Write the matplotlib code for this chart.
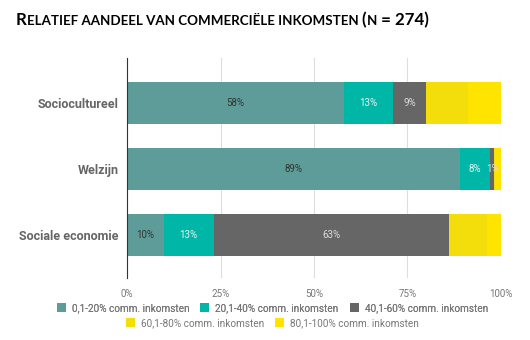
import matplotlib
matplotlib.use("Agg")
import matplotlib.pyplot as plt
from matplotlib.patches import Patch
import numpy as np

categories = ["Sociocultureel", "Welzijn", "Sociale economie"]
series_names = ["0,1-20% comm. inkomsten", "20,1-40% comm. inkomsten",
                "40,1-60% comm. inkomsten", "60,1-80% comm. inkomsten",
                "80,1-100% comm. inkomsten"]
s_0_20 = [58.1, 89.0, 9.8]
s_20_40 = [12.9, 8.1, 13.4]
s_40_60 = [9.0, 1.0, 63.0]
s_60_80 = [11.3, 0.4, 10.0]
s_80_100 = [8.7, 1.5, 3.8]
labels_0_20 = ["58%", "89%", "10%"]
labels_20_40 = ["13%", "8%", "13%"]
labels_40_60 = ["9%", "1%", "63%"]
xticks = [0, 25, 50, 75, 100]
xtick_labels = ["0%", "25%", "50%", "75%", "100%"]

colors = ["#5E9C99", "#00B6A7", "#666666", "#F3DD0B", "#FFE400"]
label_colors = ["#333333", "#E8F6F4", "#DDDDDD"]

plt.rcParams['font.family'] = ['Roboto', 'DejaVu Sans']

fig = plt.figure(figsize=(5.3, 3.4), dpi=100)
ax = fig.add_axes([127/530, 1-278/340, 374/530, 220/340])

series = [s_0_20, s_20_40, s_40_60, s_60_80, s_80_100]
series_labels = [labels_0_20, labels_20_40, labels_40_60, None, None]
y = np.arange(len(categories))
left = np.zeros(len(categories))
for i, vals in enumerate(series):
    vals = np.array(vals)
    bars = ax.barh(y, vals, left=left, height=0.64, color=colors[i], zorder=2,
                   label=series_names[i])
    if series_labels[i] is not None:
        ax.bar_label(bars, labels=series_labels[i], label_type='center',
                     fontsize=7, color=label_colors[i])
    left += vals

ax.set_xlim(0, 100)
ax.set_ylim(2.65, -0.68)
ax.set_yticks(y)
ax.set_yticklabels(categories, fontsize=9, fontweight='bold', color='#666666')
ax.set_xticks(xticks)
ax.set_xticklabels(xtick_labels, fontsize=7, color='#777777')
ax.tick_params(axis='both', length=0)
ax.tick_params(axis='y', pad=6)
ax.tick_params(axis='x', pad=8)
ax.grid(axis='x', color='#DDDDDD', linewidth=0.8, zorder=0)
for s in ['top', 'right', 'bottom']:
    ax.spines[s].set_visible(False)
ax.spines['left'].set_color('#333333')
ax.spines['left'].set_linewidth(0.8)
ax.spines['left'].set_zorder(3)

handles = [Patch(facecolor=c, edgecolor='none') for c in colors]
leg_kw = dict(loc='center', frameon=False, fontsize=7.2,
              handlelength=0.9, handleheight=0.9, handletextpad=0.6,
              columnspacing=1.1, labelcolor='#777777')
leg1 = fig.legend(handles[:3], series_names[:3], ncol=3,
                  bbox_to_anchor=(0.514, 1-308/340), **leg_kw)
fig.add_artist(leg1)
leg2 = fig.legend(handles[3:], series_names[3:], ncol=2,
                  bbox_to_anchor=(0.514, 1-323/340), **leg_kw)

# Small-caps title
renderer = fig.canvas.get_renderer()
pieces = [("R", 12.2), ("ELATIEF AANDEEL VAN COMMERCIËLE INKOMSTEN ", 9.6),
          ("(", 12.2), ("N", 9.6), (" = 274)", 12.2)]
x_px = 16
y_px = 340 - 25
for txt, size in pieces:
    t = fig.text(x_px/530, y_px/340, txt, fontsize=size, fontweight='bold',
                 family=['Lato', 'DejaVu Sans'], color='black',
                 va='baseline', ha='left')
    bb = t.get_window_extent(renderer=renderer)
    x_px += bb.width

fig.savefig("out.png", dpi=100)
